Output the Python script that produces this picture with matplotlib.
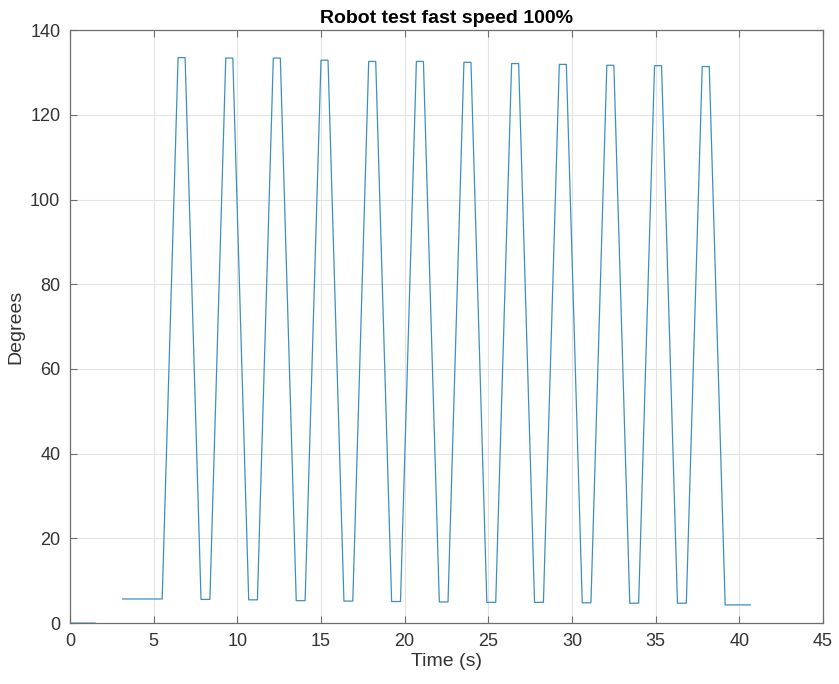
import numpy as np
import matplotlib.pyplot as plt

plt.rcParams['font.family'] = ['Liberation Sans', 'DejaVu Sans']

tiempo = [0.0, 1.5, 1.5, 3.15,
          5.51, 6.46, 6.88, 7.83, 8.36,
          9.31, 9.73, 10.68, 11.20,
          12.15, 12.57, 13.52, 14.05,
          15.00, 15.42, 16.37, 16.90,
          17.85, 18.27, 19.22, 19.75,
          20.70, 21.12, 22.07, 22.59,
          23.54, 23.96, 24.91, 25.44,
          26.39, 26.81, 27.76, 28.29,
          29.24, 29.66, 30.61, 31.13,
          32.08, 32.50, 33.45, 33.98,
          34.93, 35.35, 36.30, 36.83,
          37.78, 38.20, 39.15, 40.65]
grados = [0.0, 0.0, np.nan, 5.7,
          5.7, 133.5, 133.5, 5.6, 5.6,
          133.4, 133.4, 5.5, 5.5,
          133.4, 133.4, 5.3, 5.3,
          132.9, 132.9, 5.2, 5.2,
          132.6, 132.6, 5.1, 5.1,
          132.6, 132.6, 5.0, 5.0,
          132.4, 132.4, 4.9, 4.9,
          132.1, 132.1, 4.9, 4.9,
          131.9, 131.9, 4.8, 4.8,
          131.7, 131.7, 4.7, 4.7,
          131.6, 131.6, 4.7, 4.7,
          131.4, 131.4, 4.3, 4.3]

xticks = np.arange(0, 46, 5)
yticks = np.arange(0, 141, 20)

fig = plt.figure(figsize=(8.39, 6.84), dpi=100)
ax = fig.add_axes([0.0834, 0.089, 0.8976, 0.867])

ax.plot(tiempo, grados, color='#3f8fbd', linewidth=0.9)

ax.set_xlim(0, 45)
ax.set_ylim(0, 140)
ax.set_xticks(xticks)
ax.set_yticks(yticks)
ax.grid(True, color='#e3e3e3', linewidth=0.8)
ax.set_axisbelow(True)

for s in ax.spines.values():
    s.set_color('#6e6e6e')
    s.set_linewidth(0.9)
ax.tick_params(direction='in', top=True, right=True, length=5,
               color='#6e6e6e', labelsize=13, labelcolor='#333333', pad=7)

ax.set_title('Robot test fast speed 100%', fontsize=14, fontweight='bold', pad=5)
ax.set_xlabel('Time (s)', fontsize=14, color='#333333', labelpad=2)
ax.set_ylabel('Degrees', fontsize=14, color='#333333', labelpad=4)

fig.savefig('out.png', dpi=100)
